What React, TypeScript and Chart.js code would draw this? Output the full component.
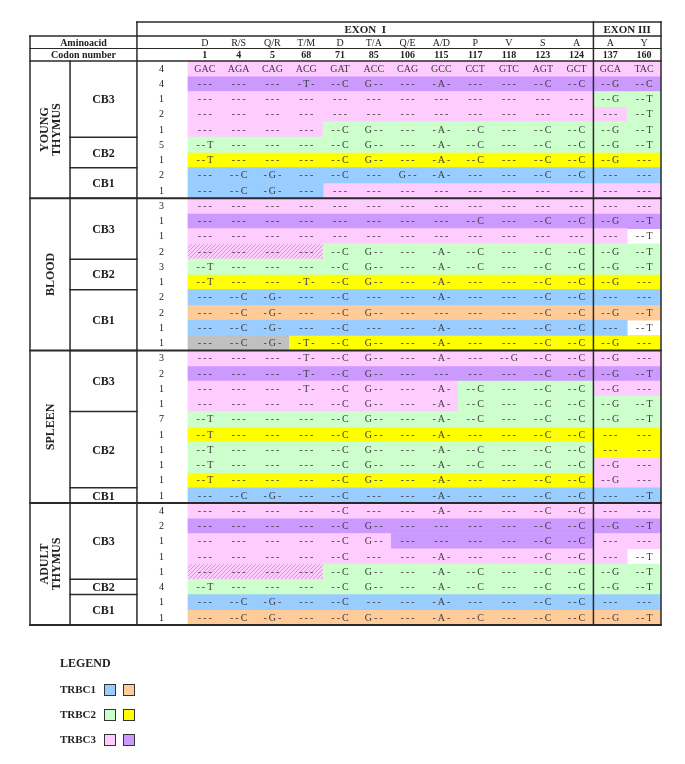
import React, { useEffect, useRef } from 'react';
import { Chart, registerables } from 'chart.js';

Chart.register(...registerables);

// ---------------- data ----------------
const aminoAcids = ['D', 'R/S', 'Q/R', 'T/M', 'D', 'T/A', 'Q/E', 'A/D', 'P', 'V', 'S', 'A', 'A', 'Y'];
const codonNumbers = ['1', '4', '5', '68', '71', '85', '106', '115', '117', '118', '123', '124', '137', '160'];
const exonLabels = ['EXON  I', 'EXON III'];
const exonColumnCounts = [12, 2];

const tissueLabels = ['YOUNG\nTHYMUS', 'BLOOD', 'SPLEEN', 'ADULT\nTHYMUS'];
const tissueRows = [9, 10, 10, 8];
const cbLabels = ['CB3', 'CB2', 'CB1', 'CB3', 'CB2', 'CB1', 'CB3', 'CB2', 'CB1', 'CB3', 'CB2', 'CB1'];
const cbRows = [5, 2, 2, 4, 2, 4, 4, 5, 1, 5, 1, 2];

const cloneCounts = [
  4, 4, 1, 2, 1, 5, 1, 2, 1,
  3, 1, 1, 2, 3, 1, 2, 2, 1, 1,
  3, 2, 1, 1, 7, 1, 1, 1, 1, 1,
  4, 2, 1, 1, 1, 4, 1, 1,
];

const sequences = [
  'GAC AGA CAG ACG GAT ACC CAG GCC CCT GTC AGT GCT GCA TAC',
  '--- --- --- -T- --C G-- --- -A- --- --- --C --C --G --C',
  '--- --- --- --- --- --- --- --- --- --- --- --- --G --T',
  '--- --- --- --- --- --- --- --- --- --- --- --- --- --T',
  '--- --- --- --- --C G-- --- -A- --C --- --C --C --G --T',
  '--T --- --- --- --C G-- --- -A- --C --- --C --C --G --T',
  '--T --- --- --- --C G-- --- -A- --C --- --C --C --G ---',
  '--- --C -G- --- --C --- G-- -A- --- --- --C --C --- ---',
  '--- --C -G- --- --- --- --- --- --- --- --- --- --- ---',
  '--- --- --- --- --- --- --- --- --- --- --- --- --- ---',
  '--- --- --- --- --- --- --- --- --C --- --C --C --G --T',
  '--- --- --- --- --- --- --- --- --- --- --- --- --- --T',
  '--- --- --- --- --C G-- --- -A- --C --- --C --C --G --T',
  '--T --- --- --- --C G-- --- -A- --C --- --C --C --G --T',
  '--T --- --- -T- --C G-- --- -A- --- --- --C --C --G ---',
  '--- --C -G- --- --C --- --- -A- --- --- --C --C --- ---',
  '--- --C -G- --- --C G-- --- --- --- --- --C --C --G --T',
  '--- --C -G- --- --C --- --- -A- --- --- --C --C --- --T',
  '--- --C -G- -T- --C G-- --- -A- --- --- --C --C --G ---',
  '--- --- --- -T- --C G-- --- -A- --- --G --C --C --G ---',
  '--- --- --- -T- --C G-- --- --- --- --- --C --C --G --T',
  '--- --- --- -T- --C G-- --- -A- --C --- --C --C --G ---',
  '--- --- --- --- --C G-- --- -A- --C --- --C --C --G --T',
  '--T --- --- --- --C G-- --- -A- --C --- --C --C --G --T',
  '--T --- --- --- --C G-- --- -A- --- --- --C --C --- ---',
  '--T --- --- --- --C G-- --- -A- --C --- --C --C --- ---',
  '--T --- --- --- --C G-- --- -A- --C --- --C --C --G ---',
  '--T --- --- --- --C G-- --- -A- --- --- --C --C --G ---',
  '--- --C -G- --- --C --- --- -A- --- --- --C --C --- --T',
  '--- --- --- --- --C --- --- -A- --- --- --C --C --- ---',
  '--- --- --- --- --C G-- --- --- --- --- --C --C --G --T',
  '--- --- --- --- --C G-- --- --- --- --- --C --C --- ---',
  '--- --- --- --- --C --- --- -A- --- --- --C --C --- --T',
  '--- --- --- --- --C G-- --- -A- --C --- --C --C --G --T',
  '--T --- --- --- --C G-- --- -A- --C --- --C --C --G --T',
  '--- --C -G- --- --C --- --- -A- --- --- --C --C --- ---',
  '--- --C -G- --- --C G-- --- -A- --C --- --C --C --G --T',
];

// B/O = TRBC1, G/Y = TRBC2, P/U = TRBC3, X = grey, W = white, H = hatched
const cellColors = [
  'PPPPPPPPPPPPPP',
  'UUUUUUUUUUUUUU',
  'PPPPPPPPPPPPGG',
  'PPPPPPPPPPPPPG',
  'PPPPGGGGGGGGGG',
  'GGGGGGGGGGGGGG',
  'YYYYYYYYYYYYYY',
  'BBBBBBBBBBBBBB',
  'BBBBPPPPPPPPPP',
  'PPPPPPPPPPPPPP',
  'UUUUUUUUUUUUUU',
  'PPPPPPPPPPPPPW',
  'HHHHGGGGGGGGGG',
  'GGGGGGGGGGGGGG',
  'YYYYYYYYYYYYYY',
  'BBBBBBBBBBBBBB',
  'OOOOOOOOOOOOOO',
  'BBBBBBBBBBBBBW',
  'XXXYYYYYYYYYYY',
  'PPPPPPPPPPPPPP',
  'UUUUUUUUUUUUUU',
  'PPPPPPPPGGGGPP',
  'PPPPPPPPGGGGGG',
  'GGGGGGGGGGGGGG',
  'YYYYYYYYYYYYYY',
  'GGGGGGGGGGGGYY',
  'GGGGGGGGGGGGPP',
  'YYYYYYYYYYYYPP',
  'BBBBBBBBBBBBBB',
  'PPPPPPPPPPPPPP',
  'UUUUUUUUUUUUUU',
  'PPPPPPUUUUUUPP',
  'PPPPPPPPPPPPPW',
  'HHHHGGGGGGGGGG',
  'GGGGGGGGGGGGGG',
  'BBBBBBBBBBBBBB',
  'OOOOOOOOOOOOOO',
];

const legendGroups = ['TRBC1', 'TRBC2', 'TRBC3'];
const legendColorKeys = [['B', 'O'], ['G', 'Y'], ['P', 'U']];
const colorKeys = ['B', 'O', 'G', 'Y', 'P', 'U', 'X', 'W', 'H'];

// ---------------- style / layout ----------------
const palette: Record<string, string> = {
  B: '#99ccff',
  O: '#ffcc99',
  G: '#ccffcc',
  Y: '#ffff00',
  P: '#ffccff',
  U: '#cc99ff',
  X: '#c0c0c0',
  W: '#ffffff',
  H: '#eebbf4',
};
const SERIF = "'Liberation Serif', 'Times New Roman', serif";
const TEXT = '#222';
const CELL_TEXT = '#3c3c3c';
const LINE = '#2a2a2a';

// column units (1 unit = one codon column)
const TISSUE_L = -4.675;
const CB_L = -3.49;
const COUNT_L = -1.51;
const COUNT_X = -0.78;
const DATA_L = 0;
const RIGHT = 14;
// row units (1 unit = one clone row)
const HEAD_TOP = -2.557;
const AMINO_TOP = -1.639;
const CODON_TOP = -0.82;

function makeHatch(): any {
  const c = document.createElement('canvas');
  c.width = 4;
  c.height = 4;
  const g = c.getContext('2d');
  if (!g) return palette.H;
  g.fillStyle = '#ffccff';
  g.fillRect(0, 0, 4, 4);
  g.strokeStyle = '#cc99ee';
  g.lineWidth = 1;
  g.beginPath();
  g.moveTo(-1, 5);
  g.lineTo(5, -1);
  g.stroke();
  return g.createPattern(c, 'repeat') || palette.H;
}

function fmt(t: string) {
  return t.includes('-') ? t.split('').join('\u2009') : t;
}

const tablePlugin = {
  id: 'tableDecor',
  afterDatasetsDraw(chart: any) {
    const { ctx, chartArea } = chart;
    const xs = chart.scales.x;
    const ys = chart.scales.y;
    const X = (v: number) => xs.getPixelForValue(v);
    const Y = (v: number) => ys.getPixelForValue(v);
    const nRows = sequences.length;
    ctx.save();
    ctx.textAlign = 'center';
    ctx.textBaseline = 'middle';

    // ---- header ----
    ctx.fillStyle = TEXT;
    ctx.font = `bold 11px ${SERIF}`;
    let c0 = 0;
    exonLabels.forEach((lab, i) => {
      const a = i === 0 ? COUNT_L : c0;
      const b = c0 + exonColumnCounts[i];
      ctx.fillText(lab, (X(a) + X(b)) / 2, (Y(HEAD_TOP) + Y(AMINO_TOP)) / 2 + 1);
      c0 = b;
    });
    const aminoMid = (Y(AMINO_TOP) + Y(CODON_TOP)) / 2 + 1;
    const codonMid = (Y(CODON_TOP) + Y(0)) / 2 + 1;
    ctx.font = `bold 10px ${SERIF}`;
    ctx.fillText('Aminoacid', (X(TISSUE_L) + X(COUNT_L)) / 2, aminoMid);
    ctx.fillText('Codon number', (X(TISSUE_L) + X(COUNT_L)) / 2, codonMid);
    codonNumbers.forEach((n, i) => ctx.fillText(n, X(i + 0.5), codonMid));
    ctx.font = `10px ${SERIF}`;
    aminoAcids.forEach((a, i) => ctx.fillText(a, X(i + 0.5), aminoMid));

    // ---- cell texts ----
    ctx.fillStyle = CELL_TEXT;
    ctx.font = `10px ${SERIF}`;
    sequences.forEach((s, r) => {
      s.split(' ').forEach((t, c) => ctx.fillText(fmt(t), X(DATA_L + c + 0.5), Y(r + 0.5) + 0.5));
    });
    ctx.fillStyle = TEXT;
    cloneCounts.forEach((n, r) => ctx.fillText(String(n), X(COUNT_X), Y(r + 0.5) + 0.5));

    // ---- CB labels ----
    ctx.font = `bold 12px ${SERIF}`;
    let r0 = 0;
    cbLabels.forEach((lab, i) => {
      const r1 = r0 + cbRows[i];
      ctx.fillText(lab, (X(CB_L) + X(COUNT_L)) / 2, (Y(r0) + Y(r1)) / 2 + 1);
      r0 = r1;
    });

    // ---- tissue labels (vertical) ----
    ctx.font = `bold 12px ${SERIF}`;
    r0 = 0;
    tissueLabels.forEach((lab, i) => {
      const r1 = r0 + tissueRows[i];
      const cx = (X(TISSUE_L) + X(CB_L)) / 2;
      const cy = (Y(r0) + Y(r1)) / 2;
      const lines = lab.split('\n');
      ctx.save();
      ctx.translate(cx, cy);
      ctx.rotate(-Math.PI / 2);
      lines.forEach((ln, k) => ctx.fillText(ln, 0, (k - (lines.length - 1) / 2) * 12.5 + 1));
      ctx.restore();
      r0 = r1;
    });

    // ---- grid lines ----
    ctx.strokeStyle = LINE;
    const hline = (y: number, a: number, b: number, w = 1.5) => {
      ctx.lineWidth = w;
      ctx.beginPath();
      ctx.moveTo(X(a) - 0.75, Y(y));
      ctx.lineTo(X(b) + 0.75, Y(y));
      ctx.stroke();
    };
    const vline = (x: number, a: number, b: number, w = 1.5) => {
      ctx.lineWidth = w;
      ctx.beginPath();
      ctx.moveTo(X(x), Y(a) - 0.75);
      ctx.lineTo(X(x), Y(b) + 0.75);
      ctx.stroke();
    };
    hline(HEAD_TOP, COUNT_L, RIGHT);
    hline(AMINO_TOP, TISSUE_L, RIGHT);
    hline(CODON_TOP, TISSUE_L, RIGHT, 1.2);
    hline(0, TISSUE_L, RIGHT);
    r0 = 0;
    tissueRows.forEach((n) => {
      r0 += n;
      hline(r0, TISSUE_L, RIGHT, 2);
    });
    r0 = 0;
    cbRows.forEach((n) => {
      r0 += n;
      hline(r0, CB_L, COUNT_L, 1.5);
    });
    vline(TISSUE_L, AMINO_TOP, nRows);
    vline(CB_L, 0, nRows);
    vline(COUNT_L, HEAD_TOP, nRows);
    vline(exonColumnCounts[0], HEAD_TOP, nRows);
    vline(RIGHT, HEAD_TOP, nRows);

    // ---- legend ----
    const lx = 60;
    const base = chartArea.bottom;
    ctx.textAlign = 'left';
    ctx.fillStyle = TEXT;
    ctx.font = `bold 12px ${SERIF}`;
    ctx.fillText('LEGEND', lx, base + 39);
    ctx.font = `bold 11px ${SERIF}`;
    legendGroups.forEach((g, i) => {
      const cy = base + 65 + i * 25;
      ctx.fillStyle = TEXT;
      ctx.fillText(g, lx, cy);
      legendColorKeys[i].forEach((k, j) => {
        const sx = 104 + j * 19;
        ctx.fillStyle = palette[k];
        ctx.fillRect(sx, cy - 6, 12, 12);
        ctx.strokeStyle = '#333';
        ctx.lineWidth = 1;
        ctx.strokeRect(sx + 0.5, cy - 5.5, 11, 11);
      });
    });
    ctx.restore();
  },
};

export default function App() {
  const ref = useRef<HTMLCanvasElement | null>(null);

  useEffect(() => {
    const canvas = ref.current;
    if (!canvas) return;
    const hatch = makeHatch();

    const datasets = colorKeys.map((key) => {
      const data: { x: [number, number]; y: number }[] = [];
      cellColors.forEach((row, r) => {
        let c = 0;
        while (c < row.length) {
          let e = c;
          while (e < row.length && row[e] === row[c]) e++;
          if (row[c] === key) data.push({ x: [DATA_L + c, DATA_L + e], y: r + 0.5 });
          c = e;
        }
      });
      return {
        label: key,
        data,
        backgroundColor: key === 'H' ? hatch : palette[key],
        borderWidth: 0,
        barPercentage: 1,
        categoryPercentage: 1,
        grouped: false,
      };
    });

    const chart = new Chart(canvas, {
      type: 'bar',
      data: { datasets } as any,
      options: {
        indexAxis: 'y',
        animation: false,
        responsive: false,
        maintainAspectRatio: false,
        events: [],
        layout: { padding: { left: 30, right: 24, top: 22, bottom: 139 } },
        scales: {
          x: { type: 'linear', min: TISSUE_L, max: RIGHT, offset: false, display: false },
          y: {
            type: 'linear',
            min: HEAD_TOP,
            max: sequences.length,
            reverse: true,
            offset: false,
            display: false,
          },
        },
        plugins: {
          legend: { display: false },
          tooltip: { enabled: false },
        },
      } as any,
      plugins: [tablePlugin],
    });
    return () => chart.destroy();
  }, []);

  return (
    <div style={{ position: 'absolute', left: 0, top: 0, width: 685, height: 764, background: '#fff' }}>
      <canvas ref={ref} width={685} height={764} style={{ display: 'block' }} />
    </div>
  );
}
